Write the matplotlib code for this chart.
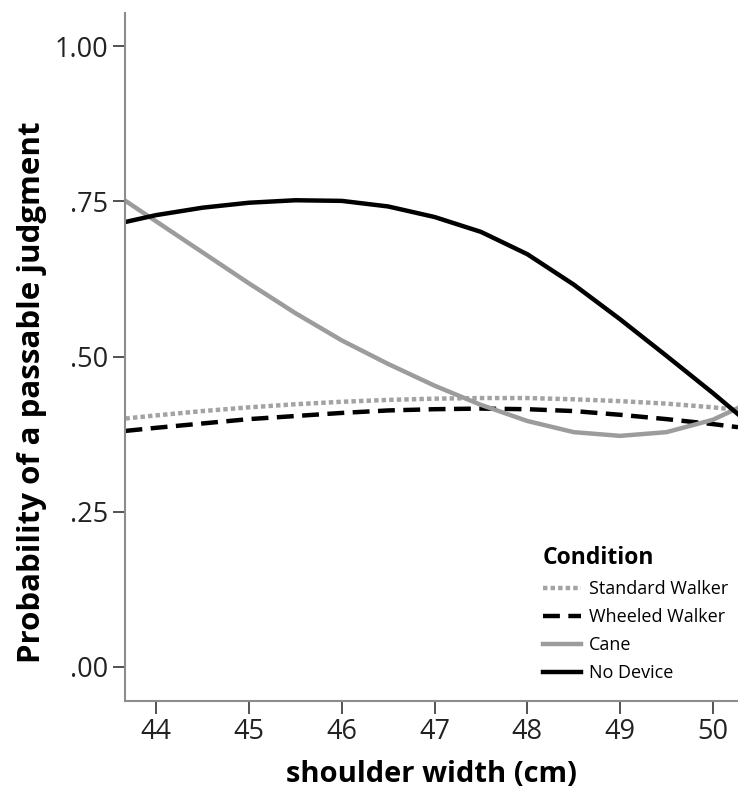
import matplotlib
matplotlib.use("Agg")
import matplotlib.pyplot as plt

plt.rcParams['font.family'] = ['Open Sans', 'DejaVu Sans']

# shoulder width sample positions (cm)
shoulder_width = [43.67, 44.0, 44.5, 45.0, 45.5, 46.0, 46.5, 47.0, 47.5,
                  48.0, 48.5, 49.0, 49.5, 50.0, 50.27]

standard_walker = [0.400, 0.405, 0.412, 0.418, 0.423, 0.427, 0.430, 0.432,
                   0.433, 0.433, 0.431, 0.428, 0.424, 0.418, 0.414]
wheeled_walker = [0.380, 0.385, 0.392, 0.399, 0.404, 0.409, 0.413, 0.415,
                  0.416, 0.415, 0.412, 0.406, 0.399, 0.391, 0.386]
cane = [0.751, 0.718, 0.668, 0.618, 0.570, 0.526, 0.488, 0.453, 0.422,
        0.396, 0.378, 0.372, 0.378, 0.398, 0.417]
no_device = [0.717, 0.728, 0.740, 0.748, 0.752, 0.751, 0.742, 0.725, 0.701,
             0.665, 0.616, 0.560, 0.501, 0.441, 0.407]

series_names = ["Standard Walker", "Wheeled Walker", "Cane", "No Device"]
x_ticks = [44, 45, 46, 47, 48, 49, 50]
y_ticks = [0.0, 0.25, 0.50, 0.75, 1.00]
y_tick_labels = [".00", ".25", ".50", ".75", "1.00"]

W, H = 738, 789
fig = plt.figure(figsize=(W / 100, H / 100), dpi=100)
ax = fig.add_axes([125 / W, 1 - 701 / H, 1 - 125 / W, (701 - 13) / H])

gray = "#9c9c9c"
lw = 3.2
ax.plot(shoulder_width, standard_walker, color="#a3a3a3", lw=lw,
        linestyle=(0, (1.0, 0.7)), dash_capstyle='butt', label=series_names[0])
ax.plot(shoulder_width, wheeled_walker, color="black", lw=lw,
        linestyle=(0, (3.8, 1.9)), dash_capstyle='butt', label=series_names[1])
ax.plot(shoulder_width, cane, color=gray, lw=lw, label=series_names[2],
        solid_joinstyle='round')
ax.plot(shoulder_width, no_device, color="black", lw=lw, label=series_names[3],
        solid_joinstyle='round')

ax.set_xlim(43.665, 50.27)
ax.set_ylim(-0.0556, 1.054)
ax.set_xticks(x_ticks)
ax.set_xticklabels([str(t) for t in x_ticks])
ax.set_yticks(y_ticks)
ax.set_yticklabels(y_tick_labels)

for s in ["top", "right"]:
    ax.spines[s].set_visible(False)
for s in ["left", "bottom"]:
    ax.spines[s].set_color("#8c8c8c")
    ax.spines[s].set_linewidth(1.5)

ax.tick_params(axis='both', direction='out', length=9, width=1.3,
               color="#444444", labelsize=19.5, labelcolor="#222222", pad=3)

ax.set_xlabel("shoulder width (cm)", fontsize=21, fontweight='bold', labelpad=10)
ax.set_ylabel("Probability of a passable judgment", fontsize=22.5,
              fontweight='bold')
ax.yaxis.set_label_coords(-0.128, (701 - 392) / 688)

leg = ax.legend(loc='lower left', bbox_to_anchor=(530 / W, 1 - 695 / H),
                bbox_transform=fig.transFigure, frameon=False,
                title="Condition", fontsize=13, handlelength=2.1,
                handletextpad=0.45, labelspacing=0.56, alignment='left',
                borderpad=0.2)
leg.get_title().set_fontweight('bold')
leg.get_title().set_fontsize(16.5)

fig.savefig("out.png", dpi=100)
